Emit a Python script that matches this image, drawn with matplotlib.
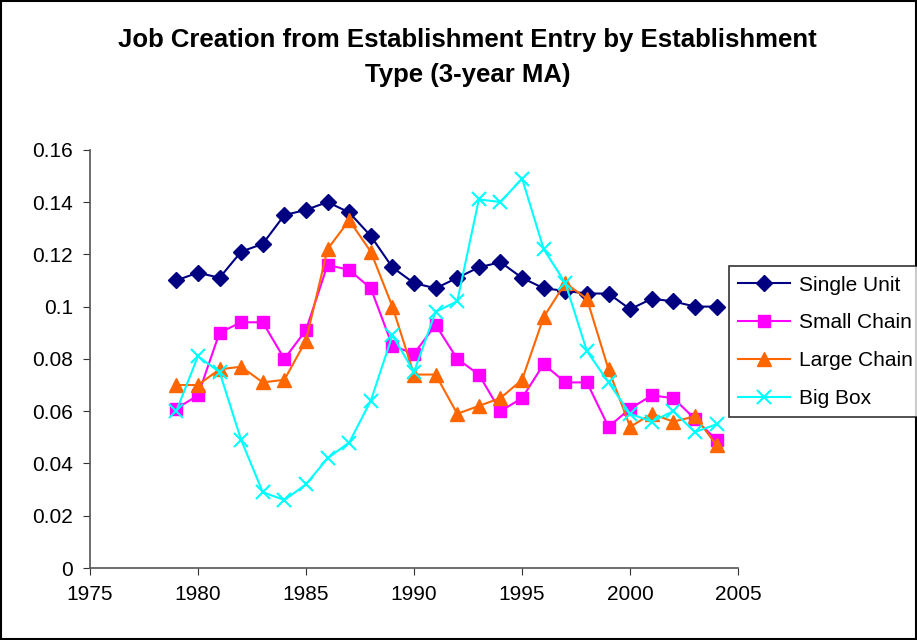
import matplotlib
matplotlib.use("Agg")
import matplotlib.pyplot as plt

years = list(range(1979, 2005))
single_unit = [0.110, 0.113, 0.111, 0.121, 0.124, 0.135, 0.137, 0.140, 0.136, 0.127,
               0.115, 0.109, 0.107, 0.111, 0.115, 0.117, 0.111, 0.107, 0.106, 0.105,
               0.105, 0.099, 0.103, 0.102, 0.100, 0.100]
small_chain = [0.061, 0.066, 0.090, 0.094, 0.094, 0.080, 0.091, 0.116, 0.114, 0.107,
               0.085, 0.082, 0.093, 0.080, 0.074, 0.060, 0.065, 0.078, 0.071, 0.071,
               0.054, 0.061, 0.066, 0.065, 0.057, 0.049]
large_chain = [0.070, 0.070, 0.076, 0.077, 0.071, 0.072, 0.087, 0.122, 0.133, 0.121,
               0.100, 0.074, 0.074, 0.059, 0.062, 0.065, 0.072, 0.096, 0.109, 0.103,
               0.076, 0.054, 0.059, 0.056, 0.058, 0.047]
big_box = [0.060, 0.081, 0.075, 0.049, 0.029, 0.026, 0.032, 0.042, 0.048, 0.064,
           0.089, 0.075, 0.098, 0.102, 0.141, 0.140, 0.149, 0.122, 0.109, 0.083,
           0.071, 0.059, 0.056, 0.060, 0.052, 0.055]
series_names = ["Single Unit", "Small Chain", "Large Chain", "Big Box"]
x_ticks = [1975, 1980, 1985, 1990, 1995, 2000, 2005]
y_ticks = [0, 0.02, 0.04, 0.06, 0.08, 0.1, 0.12, 0.14, 0.16]
y_labels = ["0", "0.02", "0.04", "0.06", "0.08", "0.1", "0.12", "0.14", "0.16"]
title = "Job Creation from Establishment Entry by Establishment\nType (3-year MA)"

plt.rcParams['font.family'] = ['Liberation Sans', 'DejaVu Sans']

fig = plt.figure(figsize=(9.17, 6.4), dpi=100)
ax = fig.add_axes([0.098, 0.1125, 0.707, 0.6535])

ax.plot(years, single_unit, color="#000080", marker="D", markersize=8, lw=1.5, label=series_names[0])
ax.plot(years, small_chain, color="#FF00FF", marker="s", markersize=9, lw=1.5, label=series_names[1])
ax.plot(years, large_chain, color="#FF6600", marker="^", markersize=10, lw=1.5, label=series_names[2])
ax.plot(years, big_box, color="#00FFFF", marker="x", markersize=10, markeredgewidth=1.5, lw=1.5, label=series_names[3])

ax.set_xlim(1975, 2005)
ax.set_ylim(0, 0.16)
ax.set_xticks(x_ticks)
ax.set_yticks(y_ticks)
ax.set_yticklabels(y_labels)
ax.tick_params(labelsize=15, direction="out", length=5, color="#333333", pad=7)
for s in ["top", "right"]:
    ax.spines[s].set_visible(False)
for s in ["left", "bottom"]:
    ax.spines[s].set_color("#555555")
    ax.spines[s].set_linewidth(1.2)

fig.text(0.51, 0.91, title, ha="center", va="center", fontsize=18.5, fontweight="bold", linespacing=1.55)

leg = fig.legend(loc="upper left", bbox_to_anchor=(0.795, 0.584), fontsize=15,
                 frameon=True, fancybox=False, edgecolor="black", borderpad=0.45,
                 handlelength=2.5, handletextpad=0.4, labelspacing=0.9, borderaxespad=0)
leg.get_frame().set_linewidth(1.2)

border = plt.Rectangle((0.001, 0.001), 0.998, 0.998, transform=fig.transFigure,
                       fill=False, edgecolor="black", lw=1.5)
fig.patches.append(border)

fig.savefig("out.png", dpi=100)
